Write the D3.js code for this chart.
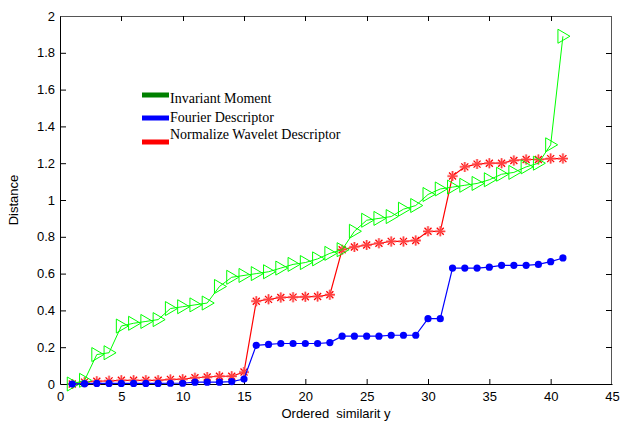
<!DOCTYPE html>
<html>
<head>
<meta charset="utf-8">
<script src="https://cdn.jsdelivr.net/npm/d3@7"></script>
<style>
    body { margin: 0; background: #fff; }
    svg { display: block; }
</style>
</head>
<body>
<svg id="chart" width="621" height="422"></svg>
<script>
const order = [1, 2, 3, 4, 5, 6, 7, 8, 9, 10, 11, 12, 13, 14, 15, 16, 17, 18, 19, 20,
    21, 22, 23, 24, 25, 26, 27, 28, 29, 30, 31, 32, 33, 34, 35, 36, 37, 38, 39, 40, 41]

const invariantMoment = [0.0, 0.02, 0.16, 0.17, 0.315, 0.33, 0.34, 0.35, 0.41, 0.42,
    0.43, 0.44, 0.53, 0.58, 0.59, 0.60, 0.61, 0.63, 0.65, 0.66,
    0.68, 0.71, 0.73, 0.83, 0.89, 0.90, 0.91, 0.95, 0.97, 1.03,
    1.06, 1.07, 1.08, 1.09, 1.11, 1.14, 1.15, 1.18, 1.20, 1.30, 1.89]

const fourierDescriptor = [0.0, 0.002, 0.003, 0.003, 0.003, 0.003, 0.003, 0.003, 0.004, 0.004,
    0.01, 0.01, 0.01, 0.013, 0.027, 0.21, 0.215, 0.22, 0.22, 0.22,
    0.22, 0.225, 0.26, 0.26, 0.26, 0.26, 0.265, 0.265, 0.265, 0.355,
    0.355, 0.63, 0.63, 0.63, 0.635, 0.645, 0.645, 0.645, 0.65, 0.665, 0.685]

const waveletDescriptor = [0.0, 0.01, 0.015, 0.017, 0.02, 0.02, 0.02, 0.02, 0.025, 0.026,
    0.034, 0.038, 0.042, 0.042, 0.065, 0.45, 0.46, 0.47, 0.472, 0.474,
    0.476, 0.485, 0.73, 0.745, 0.755, 0.765, 0.775, 0.775, 0.78, 0.83,
    0.83, 1.13, 1.18, 1.195, 1.2, 1.2, 1.215, 1.22, 1.22, 1.225, 1.225]

const legendLabels = ["Invariant Moment", "Fourier Descriptor", "Normalize Wavelet Descriptor"]
const legendColors = ["#008000", "#0000ff", "#ff0000"]

const xTicks = [0, 5, 10, 15, 20, 25, 30, 35, 40, 45]
const yTicks = [0, 0.2, 0.4, 0.6, 0.8, 1, 1.2, 1.4, 1.6, 1.8, 2]

const margin = {top: 16, right: 9, bottom: 38, left: 60},
    width = 621 - margin.left - margin.right,
    height = 422 - margin.top - margin.bottom;

const svg = d3.select("#chart")
const g = svg.append("g")
    .attr("transform", "translate(" + margin.left + "," + margin.top + ")")

const x = d3.scaleLinear().domain([0, 45]).range([0, width])
const y = d3.scaleLinear().domain([0, 2]).range([height, 0])

const tickFont = "'Liberation Sans', Arial, sans-serif"

// box: top and right edge
g.append("line").attr("x1", 0).attr("x2", width).attr("y1", 0.5).attr("y2", 0.5)
    .attr("stroke", "#555")
g.append("line").attr("x1", width - 0.5).attr("x2", width - 0.5).attr("y1", 0).attr("y2", height)
    .attr("stroke", "#555")

// inward ticks on top and right
g.selectAll(".topTick").data(xTicks.slice(1, -1)).enter().append("line")
    .attr("x1", d => Math.round(x(d)) + 0.5).attr("x2", d => Math.round(x(d)) + 0.5)
    .attr("y1", 0).attr("y2", 5).attr("stroke", "#000")
g.selectAll(".rightTick").data(yTicks.slice(1, -1)).enter().append("line")
    .attr("x1", width - 6).attr("x2", width)
    .attr("y1", d => Math.round(y(d)) + 0.5).attr("y2", d => Math.round(y(d)) + 0.5)
    .attr("stroke", "#000")

const xAxis = g.append("g")
    .attr("transform", "translate(0," + height + ")")
    .call(d3.axisBottom(x).tickValues(xTicks).tickSizeInner(-5).tickSizeOuter(0).tickPadding(8))
const yAxis = g.append("g")
    .call(d3.axisLeft(y).tickValues(yTicks).tickFormat(d3.format("~g")).tickSizeInner(-6).tickSizeOuter(0).tickPadding(5))

for (const axis of [xAxis, yAxis]) {
    axis.select(".domain").attr("stroke", "#000")
    axis.selectAll(".tick line").attr("stroke", "#000")
    axis.selectAll("text")
        .style("font-family", tickFont)
        .style("font-size", "13px")
        .attr("fill", "#000")
}
yAxis.selectAll(".tick").filter(d => d === 0 || d === 2).select("line").remove()
xAxis.selectAll(".tick").filter(d => d === 0 || d === 45).select("line").remove()

const line = d3.line()
    .x((d, i) => x(order[i]))
    .y(d => y(d))

// Normalize Wavelet Descriptor - red asterisks
g.append("path")
    .datum(waveletDescriptor)
    .attr("fill", "none")
    .attr("stroke", "#ff0000")
    .attr("stroke-width", 1.2)
    .attr("d", line)
const stars = g.selectAll(".star").data(waveletDescriptor).enter().append("g")
    .attr("transform", (d, i) => "translate(" + x(order[i]) + "," + y(d) + ")")
    .attr("stroke", "#ff0000")
stars.append("path")
    .attr("d", "M-5,0H5M0,-5V5M-3.5,-3.5L3.5,3.5M-3.5,3.5L3.5,-3.5")
    .attr("stroke-width", 1.3)
stars.append("path")
    .attr("d", "M-5,0H5M0,-5V5")
    .attr("stroke", "#ff8080")
    .attr("stroke-opacity", 0.5)
    .attr("stroke-width", 3)

// Invariant Moment - green open triangles
g.append("path")
    .datum(invariantMoment)
    .attr("fill", "none")
    .attr("stroke", "#00ff00")
    .attr("stroke-width", 1)
    .attr("d", line)
g.selectAll(".tri").data(invariantMoment).enter().append("path")
    .attr("transform", (d, i) => "translate(" + x(order[i]) + "," + y(d) + ")")
    .attr("d", "M-5,-7L7,0L-5,7Z")
    .attr("fill", "none")
    .attr("stroke", "#00ff00")
    .attr("stroke-width", 1)

// Fourier Descriptor - blue dots
g.append("path")
    .datum(fourierDescriptor)
    .attr("fill", "none")
    .attr("stroke", "#0000ff")
    .attr("stroke-width", 1.2)
    .attr("d", line)
g.selectAll(".dot").data(fourierDescriptor).enter().append("circle")
    .attr("cx", (d, i) => x(order[i]))
    .attr("cy", d => y(d))
    .attr("r", 3.6)
    .attr("fill", "#0000ff")

// legend
const legend = svg.append("g").attr("transform", "translate(142,0)")
const legendLineY = [95, 118, 142]
const legendTextY = [103, 122, 139]
legendLabels.forEach((label, i) => {
    legend.append("rect")
        .attr("x", 0).attr("y", legendLineY[i] - 2.5)
        .attr("width", 27).attr("height", 5)
        .attr("fill", legendColors[i])
    legend.append("text")
        .attr("x", 28).attr("y", legendTextY[i])
        .style("font-family", "'Liberation Serif', 'Times New Roman', serif")
        .style("font-size", "14px")
        .text(label)
})

// axis labels
svg.append("text")
    .attr("x", margin.left + width / 2).attr("y", 418)
    .attr("text-anchor", "middle")
    .style("font-family", tickFont)
    .style("font-size", "13px")
    .style("white-space", "pre")
    .attr("xml:space", "preserve")
    .text("Ordered  similarit y")

svg.append("text")
    .attr("transform", "translate(18," + (margin.top + height / 2) + ") rotate(-90)")
    .attr("text-anchor", "middle")
    .style("font-family", tickFont)
    .style("font-size", "13px")
    .text("Distance")
</script>
</body>
</html>
